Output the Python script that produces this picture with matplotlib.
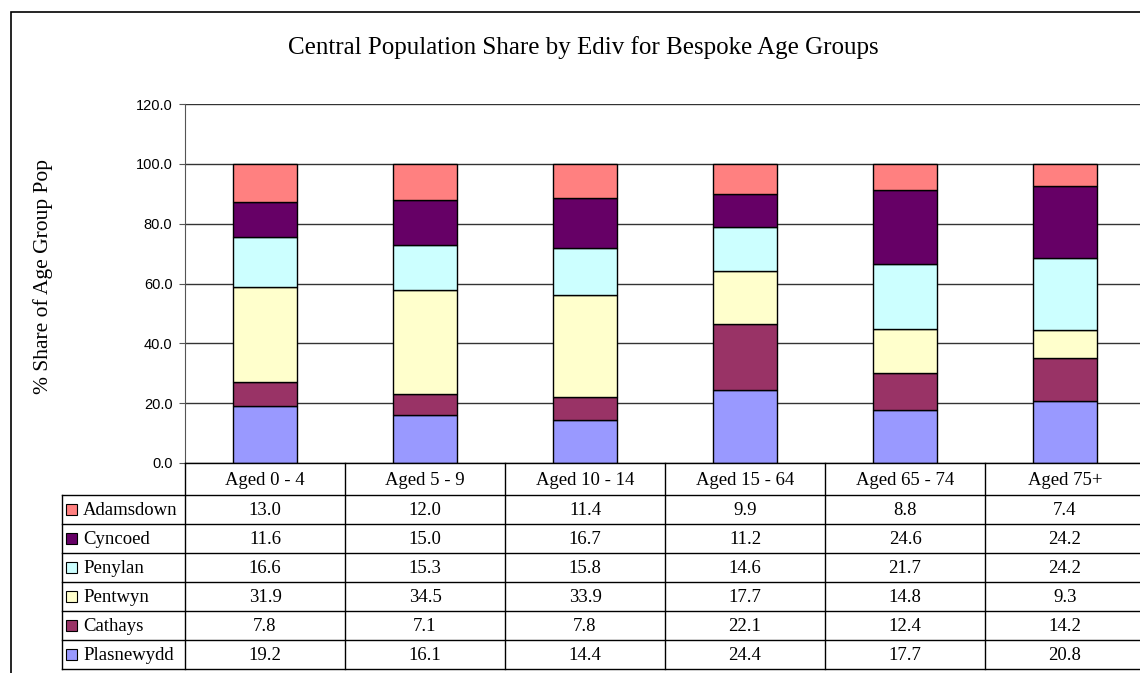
import matplotlib
matplotlib.use('Agg')
import matplotlib.pyplot as plt
from matplotlib.patches import Rectangle
import numpy as np

# --- data ---
categories = ['Aged 0 - 4', 'Aged 5 - 9', 'Aged 10 - 14', 'Aged 15 - 64', 'Aged 65 - 74', 'Aged 75+']
areas = ['Plasnewydd', 'Cathays', 'Pentwyn', 'Penylan', 'Cyncoed', 'Adamsdown']  # bottom -> top
plasnewydd = [19.2, 16.1, 14.4, 24.4, 17.7, 20.8]
cathays = [7.8, 7.1, 7.8, 22.1, 12.4, 14.2]
pentwyn = [31.9, 34.5, 33.9, 17.7, 14.8, 9.3]
penylan = [16.6, 15.3, 15.8, 14.6, 21.7, 24.2]
cyncoed = [11.6, 15.0, 16.7, 11.2, 24.6, 24.2]
adamsdown = [13.0, 12.0, 11.4, 9.9, 8.8, 7.4]
series = [plasnewydd, cathays, pentwyn, penylan, cyncoed, adamsdown]
colors = ['#9999FF', '#993366', '#FFFFCC', '#CCFFFF', '#660066', '#FF8080']
yticks = [0, 20, 40, 60, 80, 100, 120]

serif = ['Liberation Serif', 'DejaVu Serif']
sans = ['Liberation Sans', 'DejaVu Sans']

W, H = 1140, 673
fig = plt.figure(figsize=(W / 100, H / 100), dpi=100)

def px(x0, y0, x1, y1):
    return [x0 / W, 1 - y1 / H, (x1 - x0) / W, (y1 - y0) / H]

# outer chart frame
fig.add_artist(Rectangle((11 / W, -0.01), 1.1, 1 - 12 / H + 0.01, transform=fig.transFigure,
                         fill=False, ec='black', lw=1.2))

fig.text(583 / W, 1 - 48 / H, 'Central Population Share by Ediv for Bespoke Age Groups',
         ha='center', va='center', fontsize=18, family=serif)
fig.text(43 / W, 1 - 277 / H, '% Share of Age Group Pop', rotation=90,
         ha='center', va='center', fontsize=15.5, family=serif)

# --- main stacked bars ---
x_left, x_right = 185, 1145
ax = fig.add_axes(px(x_left, 104, x_right, 463))
x = np.arange(len(categories))
bottom = np.zeros(len(categories))
for vals, col in zip(series, colors):
    ax.bar(x, vals, width=0.4, bottom=bottom, color=col, edgecolor='black', linewidth=1, zorder=3)
    bottom += np.array(vals)
ax.set_xlim(-0.5, len(categories) - 0.5)
ax.set_ylim(0, 120)
ax.set_yticks(yticks)
ax.set_yticklabels([f'{t:.1f}' for t in yticks], family=sans, fontsize=10.5)
ax.set_xticks([])
ax.grid(axis='y', color='#333333', lw=1, zorder=0)
for s in ['top', 'right', 'bottom']:
    ax.spines[s].set_visible(False)
ax.spines['left'].set_color('#555555')
ax.tick_params(axis='y', length=4, color='#555555', pad=5)

# --- data table ---
tax = fig.add_axes(px(62, 463, x_right, 669))
label_w = (185 - 62) / 160.0
tax.set_xlim(-0.5 - label_w, len(categories) - 0.5)
hdr = 32 / 29.0
nrows = len(areas)
tax.set_ylim(hdr + nrows, 0)
tax.axis('off')
lc = 'black'
lw = 1
# horizontal lines
tax.plot([-0.5, len(categories) - 0.5], [0, 0], color=lc, lw=lw, clip_on=False)
for r in range(nrows + 1):
    tax.plot([-0.5 - label_w, len(categories) - 0.5], [hdr + r, hdr + r], color=lc, lw=lw, clip_on=False)
# vertical lines
for c in range(len(categories) + 1):
    tax.plot([c - 0.5, c - 0.5], [0, hdr + nrows], color=lc, lw=lw, clip_on=False)
tax.plot([-0.5 - label_w] * 2, [hdr, hdr + nrows], color=lc, lw=lw, clip_on=False)

fs = 13.5
for i, cat in enumerate(categories):
    tax.text(i, hdr / 2 + 0.05, cat, ha='center', va='center', fontsize=fs, family=serif)

rows_top_down = list(zip(areas, series, colors))[::-1]
for r, (name, vals, col) in enumerate(rows_top_down):
    yc = hdr + r + 0.5
    tax.add_patch(Rectangle((-0.5 - label_w + 4 / 160, yc - 0.2), 11 / 160, 0.4,
                            fc=col, ec='black', lw=0.8, clip_on=False))
    tax.text(-0.5 - label_w + 21 / 160, yc + 0.05, name, ha='left', va='center', fontsize=fs, family=serif)
    for i, v in enumerate(vals):
        tax.text(i, yc + 0.05, f'{v:.1f}', ha='center', va='center', fontsize=fs, family=serif)

fig.savefig('out.png', dpi=100)
